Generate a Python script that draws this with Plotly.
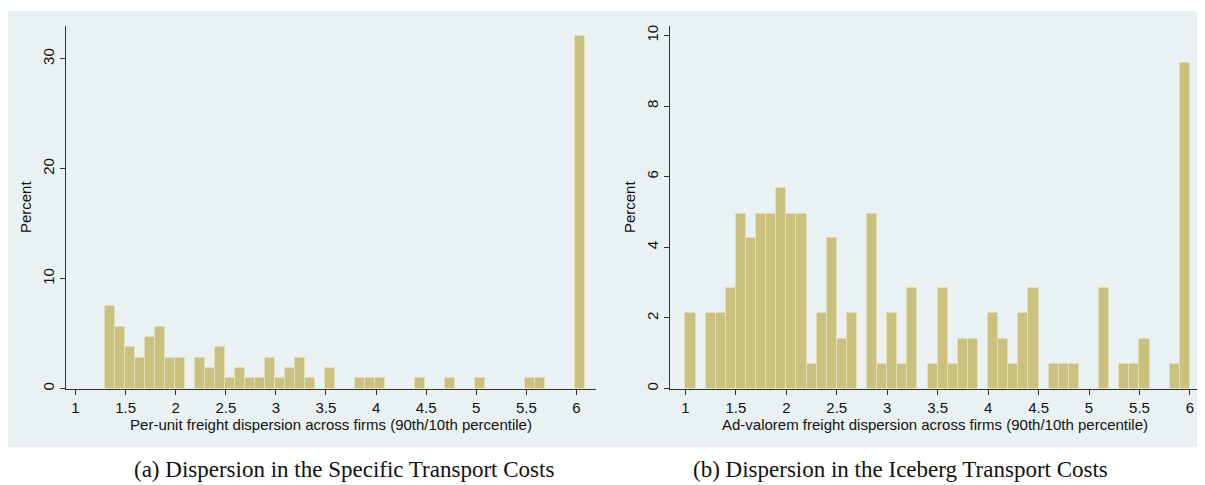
import plotly.graph_objects as go

# ---------------- data ----------------
# Panel (a): per-unit freight dispersion, bin left edges (width 0.1) and percent
a_edges = [1.29, 1.39, 1.49, 1.59, 1.69, 1.79, 1.89, 1.99,
           2.19, 2.29, 2.39, 2.49, 2.59, 2.69, 2.79, 2.89, 2.99, 3.09, 3.19, 3.29,
           3.49, 3.79, 3.89, 3.99, 4.39, 4.69, 4.99, 5.49, 5.59, 5.99]
a_percent = [7.55, 5.66, 3.77, 2.83, 4.72, 5.66, 2.83, 2.83,
             2.83, 1.89, 3.77, 0.94, 1.89, 0.94, 0.94, 2.83, 0.94, 1.89, 2.83, 0.94,
             1.89, 0.94, 0.94, 0.94, 0.94, 0.94, 0.94, 0.94, 0.94, 32.08]

# Panel (b): ad-valorem freight dispersion
b_edges = [1.0, 1.2, 1.3, 1.4, 1.5, 1.6, 1.7, 1.8, 1.9, 2.0, 2.1, 2.2, 2.3, 2.4,
           2.5, 2.6, 2.8, 2.9, 3.0, 3.1, 3.2, 3.4, 3.5, 3.6, 3.7, 3.8, 4.0, 4.1,
           4.2, 4.3, 4.4, 4.6, 4.7, 4.8, 5.1, 5.3, 5.4, 5.5, 5.8, 5.9]
b_percent = [2.13, 2.13, 2.13, 2.84, 4.96, 4.26, 4.96, 4.96, 5.67, 4.96, 4.96, 0.71, 2.13, 4.26,
             1.42, 2.13, 4.96, 0.71, 2.13, 0.71, 2.84, 0.71, 2.84, 0.71, 1.42, 1.42, 2.13, 1.42,
             0.71, 2.13, 2.84, 0.71, 0.71, 0.71, 2.84, 0.71, 0.71, 1.42, 0.71, 9.22]

bin_width = 0.1
x_ticks = [1, 1.5, 2, 2.5, 3, 3.5, 4, 4.5, 5, 5.5, 6]
x_ticktext = ["1", "1.5", "2", "2.5", "3", "3.5", "4", "4.5", "5", "5.5", "6"]
a_yticks = [0, 10, 20, 30]
b_yticks = [0, 2, 4, 6, 8, 10]

a_xtitle = "Per-unit freight dispersion across firms (90th/10th percentile)"
b_xtitle = "Ad-valorem freight dispersion across firms (90th/10th percentile)"
ytitle = "Percent"
a_caption = "(a) Dispersion in the Specific Transport Costs"
b_caption = "(b) Dispersion in the Iceberg Transport Costs"

# ---------------- styling ----------------
OFF = 8                      # page body margin of the html page
W, H = 1205 - OFF, 485 - OFF
BG = "#e9f1f3"
BAR = "#cbc17f"
BAR_LINE = "#e4dfb2"
AXIS = "#333333"
FONT = "Liberation Sans, Arial, sans-serif"
SERIF = "Liberation Serif, DejaVu Serif, serif"


def px_x(p):
    return max(0.0, min(1.0, (p - OFF) / W))


def px_y(p):
    return max(0.0, min(1.0, (H - (p - OFF)) / H))


fig = go.Figure()

fig.add_trace(go.Bar(x=a_edges, y=a_percent, width=bin_width, offset=0,
                     marker=dict(color=BAR, line=dict(color=BAR_LINE, width=1)),
                     xaxis="x", yaxis="y", showlegend=False))
fig.add_trace(go.Bar(x=b_edges, y=b_percent, width=bin_width, offset=0,
                     marker=dict(color=BAR, line=dict(color=BAR_LINE, width=1)),
                     xaxis="x2", yaxis="y2", showlegend=False))

ydom = [px_y(390), px_y(25)]

common_x = dict(tickmode="array", tickvals=x_ticks, ticktext=x_ticktext,
                showgrid=False, zeroline=False, showline=True, linecolor=AXIS, linewidth=1,
                ticks="outside", ticklen=5, tickcolor=AXIS, tickwidth=1,
                tickfont=dict(family=FONT, size=15, color="#111"),
                title_font=dict(family=FONT, size=15, color="#111"), title_standoff=2)
common_y = dict(showgrid=True, gridcolor=BG, gridwidth=1, zeroline=False,
                showline=True, linecolor=AXIS, linewidth=1,
                ticks="outside", ticklen=5, tickcolor=AXIS, tickwidth=1, tickangle=-90,
                tickfont=dict(family=FONT, size=15, color="#111"),
                title_font=dict(family=FONT, size=15, color="#111"), title_standoff=4)

fig.update_layout(
    width=W, height=H,
    margin=dict(l=0, r=0, t=0, b=0),
    paper_bgcolor="white", plot_bgcolor="white",
    bargap=0,
    xaxis=dict(domain=[px_x(66), px_x(596)], range=[0.905, 6.195], anchor="y",
               title_text=a_xtitle, **common_x),
    yaxis=dict(domain=ydom, range=[0, 33.0], anchor="x", tickvals=a_yticks,
               title_text=ytitle, **common_y),
    xaxis2=dict(domain=[px_x(670), px_x(1200)], range=[0.847, 6.1], anchor="y2",
                title_text=b_xtitle, **common_x),
    yaxis2=dict(domain=ydom, range=[0, 10.27], anchor="x2", tickvals=b_yticks,
                title_text=ytitle, **common_y),
    shapes=[dict(type="rect", xref="paper", yref="paper", layer="below",
                 x0=px_x(6), x1=1.0, y0=px_y(449), y1=px_y(10),
                 fillcolor=BG, line=dict(width=0))],
    annotations=[
        dict(text=a_caption, xref="paper", yref="paper", x=px_x(344), y=px_y(471),
             showarrow=False, xanchor="center", yanchor="middle",
             font=dict(family=SERIF, size=23, color="#111")),
        dict(text=b_caption, xref="paper", yref="paper", x=px_x(900), y=px_y(471),
             showarrow=False, xanchor="center", yanchor="middle",
             font=dict(family=SERIF, size=23, color="#111")),
    ],
)

fig.write_html("out.html")
